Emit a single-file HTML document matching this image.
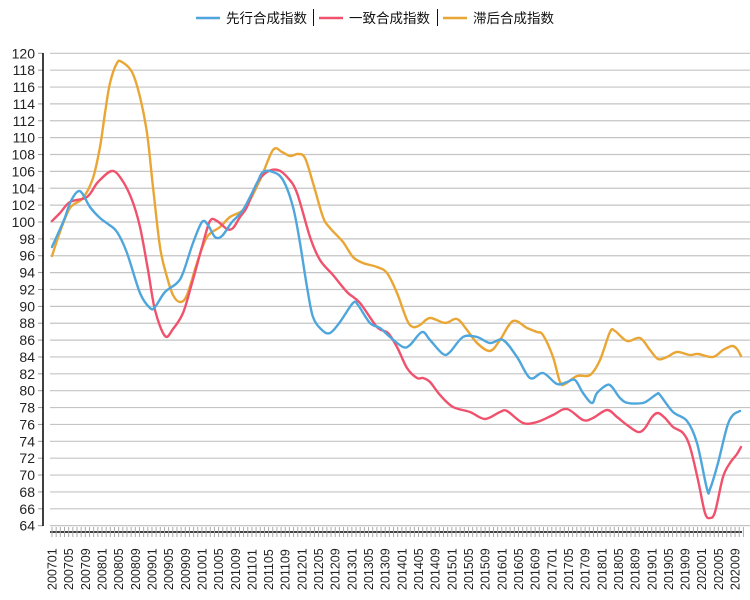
<!DOCTYPE html>
<html><head><meta charset="utf-8"><style>
html,body{margin:0;padding:0;background:#fff;}
svg{display:block;}
text{font-family:"Liberation Sans","Noto Sans CJK SC",sans-serif;}
</style></head><body>
<svg id="s" width="750" height="600" xmlns="http://www.w3.org/2000/svg">
<g id="grid"></g>
<line x1="43" y1="53" x2="43" y2="526" stroke="#000" stroke-width="1.5"/>
<line x1="50" y1="532" x2="742" y2="532" stroke="#000" stroke-width="1.5"/>
<g id="ticks"></g>
<g id="xl" font-size="12.5" fill="#222"></g>
<g id="series" fill="none" stroke-width="2.4" stroke-linejoin="round" stroke-linecap="round"></g>
<g font-size="13.5" fill="#111">
<line x1="196" y1="18" x2="220" y2="18" stroke="#4ea6dc" stroke-width="2.5"/>
<text x="226" y="23">先行合成指数</text>
<line x1="313.5" y1="9" x2="313.5" y2="26" stroke="#111" stroke-width="1"/>
<line x1="319" y1="18" x2="343" y2="18" stroke="#f0526d" stroke-width="2.5"/>
<text x="349" y="23">一致合成指数</text>
<line x1="437.5" y1="9" x2="437.5" y2="26" stroke="#111" stroke-width="1"/>
<line x1="443" y1="18" x2="467" y2="18" stroke="#eaa635" stroke-width="2.5"/>
<text x="473" y="23">滞后合成指数</text>
</g>
</svg>
<script>
var NS="http://www.w3.org/2000/svg";
function el(p,t,a,txt){var e=document.createElementNS(NS,t);for(var k in a)e.setAttribute(k,a[k]);if(txt)e.textContent=txt;document.getElementById(p).appendChild(e);return e;}
for(var i=0;i<=28;i++){var v=120-2*i;var y=53.3+i*16.87;
 el("grid","line",{x1:50,x2:750,y1:y,y2:y,stroke:"#c4c4c4","stroke-width":1.2});
 el("grid","line",{x1:38,x2:43,y1:y,y2:y,stroke:"#999","stroke-width":1});
 el("grid","text",{x:35,y:y+5,"text-anchor":"end","font-size":"14",fill:"#222"},String(v));}
for(var m=0;m<=166;m++){var x=52+m*4.165;
 el("ticks","line",{x1:x,x2:x,y1:527,y2:537,stroke:"#aaa","stroke-width":1});
 if(m%4==0&&m<=164){var yr=2007+Math.floor(m/12),mo=m%12+1;var lab=yr+(mo<10?"0":"")+mo;
  el("xl","text",{transform:"translate("+(x+4.5)+",590) rotate(-90)"},lab);}}
var B=[[52,247],[64,220],[70,203],[77,192],[82,193],[90,207],[100,218],[108,224],[117,232],[127,253],[140,293],[150,308],[155,307],[165,292],[177,283],[183,273],[193,243],[202,222],[208,225],[215,237],[222,236],[232,222],[243,210],[257,183],[263,172],[273,172],[283,180],[293,207],[300,243],[307,287],[313,317],[322,330],[330,333],[340,322],[353,303],[358,305],[370,323],[380,328],[390,337],[403,347],[410,345],[422,332],[430,340],[443,354],[450,352],[463,337],[477,337],[490,343],[503,340],[517,357],[530,378],[543,373],[557,384],[567,382],[575,380],[583,393],[592,403],[597,393],[607,385],[612,387],[620,398],[628,403],[643,403],[650,399],[657,394],[660,395],[673,412],[687,421],[697,443],[707,489],[710,489],[718,463],[727,427],[733,415],[740,411]];
var R=[[52,221],[60,213],[70,202],[87,197],[98,182],[112,171],[122,180],[132,200],[140,227],[148,270],[155,310],[165,336],[173,329],[183,313],[192,283],[202,247],[210,221],[217,221],[227,229],[233,228],[240,217],[247,207],[257,183],[267,172],[278,170],[288,178],[297,193],[310,237],[320,260],[333,275],[347,292],[360,303],[377,327],[388,333],[397,347],[407,368],[417,378],[423,378],[430,382],[440,395],[453,407],[470,412],[485,419],[500,412],[507,411],[523,423],[537,422],[553,415],[567,409],[583,420],[593,418],[607,410],[617,417],[627,425],[638,432],[645,428],[652,417],[658,413],[665,418],[673,427],[683,433],[690,447],[698,480],[705,513],[710,518],[715,512],[723,477],[730,463],[737,454],[741,447]];
var O=[[52,256],[60,232],[70,208],[83,198],[93,178],[100,147],[105,113],[110,83],[117,63],[122,62],[132,72],[140,97],[147,133],[153,187],[160,247],[167,277],[173,295],[180,302],[187,295],[197,263],[207,237],[220,227],[230,217],[245,208],[260,180],[273,150],[282,152],[290,156],[298,154],[305,158],[313,183],[323,217],[330,228],[343,242],[353,257],[363,263],[377,267],[387,273],[397,293],[407,320],[413,327],[420,325],[430,318],[445,323],[457,319],[467,330],[477,343],[490,351],[500,340],[513,321],[527,328],[537,332],[543,335],[553,357],[560,382],[565,384],[577,376],[590,375],[600,360],[610,332],[615,331],[627,341],[640,338],[650,350],[658,359],[667,357],[677,352],[690,355],[698,354],[713,357],[723,350],[732,346],[737,349],[741,356]];
function path(P){var d="M"+P[0][0]+","+P[0][1];for(var i=0;i<P.length-1;i++){var p0=P[Math.max(i-1,0)],p1=P[i],p2=P[i+1],p3=P[Math.min(i+2,P.length-1)];
 var c1x=p1[0]+(p2[0]-p0[0])/6,c1y=p1[1]+(p2[1]-p0[1])/6,c2x=p2[0]-(p3[0]-p1[0])/6,c2y=p2[1]-(p3[1]-p1[1])/6;
 d+=" C"+c1x.toFixed(1)+","+c1y.toFixed(1)+" "+c2x.toFixed(1)+","+c2y.toFixed(1)+" "+p2[0]+","+p2[1];}return d;}
el("series","path",{d:path(O),stroke:"#eaa635"});
el("series","path",{d:path(R),stroke:"#f0526d"});
el("series","path",{d:path(B),stroke:"#4ea6dc"});
</script>
</body></html>
